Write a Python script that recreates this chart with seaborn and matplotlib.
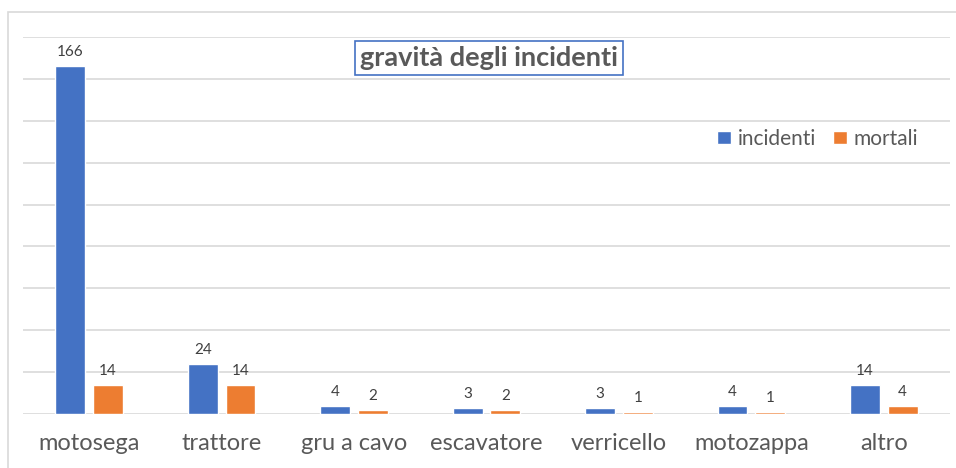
import matplotlib
matplotlib.use("Agg")
import matplotlib.pyplot as plt
import seaborn as sns
import pandas as pd
from matplotlib.patches import Rectangle

categories = ["motosega", "trattore", "gru a cavo", "escavatore", "verricello", "motozappa", "altro"]
incidenti = [166, 24, 4, 3, 3, 4, 14]
mortali = [14, 14, 2, 2, 1, 1, 4]
series_names = ["incidenti", "mortali"]
title = "gravità degli incidenti"

sns.set_theme(style="white")
plt.rcParams["font.family"] = ["Lato", "DejaVu Sans"]
TXT = "#595959"

df = pd.DataFrame({
    "cat": categories * 2,
    "serie": [series_names[0]] * len(categories) + [series_names[1]] * len(categories),
    "val": incidenti + mortali,
})

fig = plt.figure(figsize=(9.56, 4.68), dpi=100)
ax = fig.add_axes([23 / 956, 54 / 468, 927 / 956, 377 / 468])

sns.barplot(data=df, x="cat", y="val", hue="serie", order=categories,
            hue_order=series_names, palette=["#4472C4", "#ED7D31"],
            width=0.57, gap=0.21, ax=ax, legend=True, saturation=1)

ax.set_ylim(0, 180)
ax.set_yticks(range(0, 181, 20))
ax.set_yticklabels([])
ax.tick_params(axis="y", length=0)
ax.tick_params(axis="x", length=0, labelsize=17, colors=TXT, pad=14)
ax.grid(axis="y", color="#D9D9D9", linewidth=1.2)
ax.set_axisbelow(True)
for s in ax.spines.values():
    s.set_visible(False)
ax.set_xlabel("")
ax.set_ylabel("")
ax.set_xlim(-0.5, len(categories) - 0.5)

for c in ax.containers:
    ax.bar_label(c, padding=5, fontsize=11, color="#404040")

ax.legend(loc="center right", bbox_to_anchor=(0.975, 0.73), ncol=2, frameon=False,
          fontsize=15, handlelength=0.65, handleheight=0.65, handletextpad=0.35,
          columnspacing=0.8, labelcolor=TXT, borderaxespad=0)

fig.text(489 / 956, 1 - 58 / 468, title, ha="center", va="center", fontsize=19.5,
         fontweight="bold", color=TXT,
         bbox=dict(boxstyle="square,pad=0.2", facecolor="white", edgecolor="#4472C4", linewidth=1.2))

fig.patches.append(Rectangle((8 / 956, -0.05), 1.1, 1 - 12 / 468 + 0.05, transform=fig.transFigure,
                             fill=False, edgecolor="#D9D9D9", linewidth=1.2))

fig.savefig("out.png", dpi=100)
